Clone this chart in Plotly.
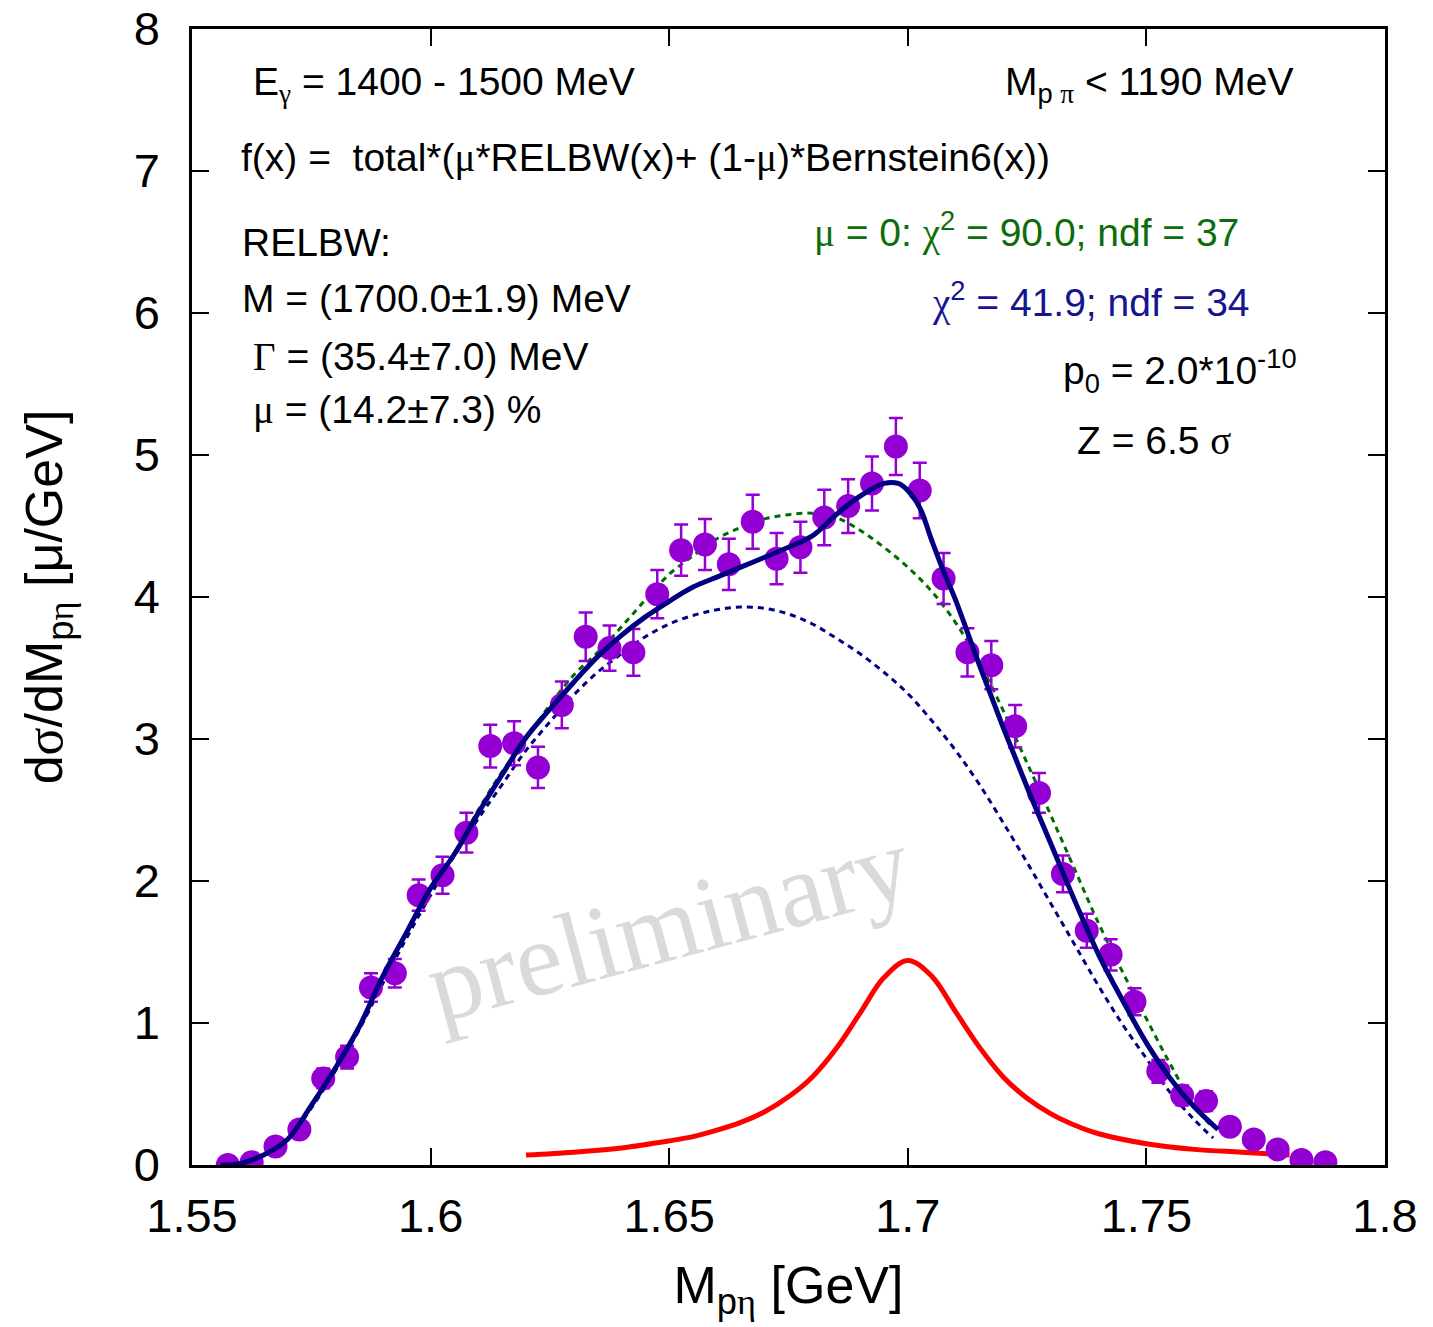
import plotly.graph_objects as go

# ---------------- data ----------------
mass = [1.5575, 1.5625, 1.5675, 1.5725, 1.5775, 1.5825, 1.5875, 1.5925, 1.5975, 1.6025,
        1.6075, 1.6125, 1.6175, 1.6225, 1.6275, 1.6325, 1.6375, 1.6425, 1.6475, 1.6525,
        1.6575, 1.6625, 1.6675, 1.6725, 1.6775, 1.6825, 1.6875, 1.6925, 1.6975, 1.7025,
        1.7075, 1.7125, 1.7175, 1.7225, 1.7275, 1.7325, 1.7375, 1.7425, 1.7475, 1.7525,
        1.7575, 1.7625, 1.7675, 1.7725, 1.7775, 1.7825, 1.7875]
xsec = [0.00, 0.02, 0.13, 0.25, 0.61, 0.76, 1.25, 1.35, 1.90, 2.04,
        2.34, 2.95, 2.97, 2.80, 3.24, 3.72, 3.64, 3.61, 4.02, 4.33,
        4.37, 4.23, 4.53, 4.27, 4.35, 4.56, 4.64, 4.80, 5.06, 4.75,
        4.13, 3.61, 3.52, 3.09, 2.62, 2.05, 1.65, 1.48, 1.15, 0.66,
        0.49, 0.45, 0.27, 0.18, 0.11, 0.035, 0.02]
xsec_err = [0.03, 0.03, 0.05, 0.06, 0.07, 0.08, 0.10, 0.10, 0.11, 0.13,
            0.14, 0.15, 0.155, 0.145, 0.165, 0.17, 0.16, 0.165, 0.17, 0.18,
            0.18, 0.18, 0.19, 0.18, 0.18, 0.195, 0.19, 0.19, 0.20, 0.195,
            0.18, 0.17, 0.17, 0.15, 0.14, 0.13, 0.12, 0.11, 0.095, 0.08,
            0.07, 0.07, 0.05, 0.04, 0.03, 0.02, 0.02]

# total fit (solid)
fit_x = [1.556, 1.56, 1.565, 1.57, 1.575, 1.58, 1.585, 1.59, 1.595, 1.60,
         1.605, 1.61, 1.615, 1.62, 1.625, 1.63, 1.635, 1.64, 1.645, 1.65,
         1.655, 1.66, 1.665, 1.67, 1.675, 1.68, 1.685, 1.69, 1.695, 1.698,
         1.70, 1.7025, 1.705, 1.7075, 1.71, 1.715, 1.72, 1.725, 1.73, 1.735,
         1.74, 1.745, 1.75, 1.755, 1.76, 1.765]
fit_y = [0.00, 0.01, 0.07, 0.18, 0.42, 0.68, 0.97, 1.33, 1.64, 1.95,
         2.19, 2.48, 2.75, 3.01, 3.21, 3.40, 3.58, 3.73, 3.86, 3.97,
         4.07, 4.14, 4.21, 4.28, 4.35, 4.43, 4.58, 4.71, 4.80, 4.80,
         4.75, 4.63, 4.40, 4.18, 3.98, 3.52, 3.08, 2.66, 2.26, 1.86,
         1.48, 1.16, 0.86, 0.61, 0.41, 0.25]

# background part of the fit (blue dotted)
bg_x = [1.556, 1.56, 1.565, 1.57, 1.575, 1.58, 1.585, 1.59, 1.595, 1.60,
        1.605, 1.61, 1.615, 1.62, 1.625, 1.63, 1.635, 1.64, 1.645, 1.65,
        1.655, 1.66, 1.665, 1.67, 1.675, 1.68, 1.685, 1.69, 1.695, 1.70,
        1.705, 1.71, 1.715, 1.72, 1.725, 1.73, 1.735, 1.74, 1.745, 1.75,
        1.755, 1.76, 1.764]
bg_y = [0.00, 0.01, 0.07, 0.18, 0.40, 0.66, 0.95, 1.28, 1.60, 1.90,
        2.18, 2.44, 2.68, 2.92, 3.12, 3.31, 3.47, 3.60, 3.72, 3.81,
        3.87, 3.91, 3.93, 3.92, 3.88, 3.81, 3.71, 3.60, 3.47, 3.32,
        3.13, 2.92, 2.68, 2.41, 2.13, 1.84, 1.55, 1.26, 0.99, 0.75,
        0.51, 0.32, 0.19]

# mu = 0 fit (green dotted)
nosig_x = [1.556, 1.56, 1.565, 1.57, 1.575, 1.58, 1.585, 1.59, 1.595, 1.60,
           1.605, 1.61, 1.615, 1.62, 1.625, 1.63, 1.635, 1.64, 1.645, 1.65,
           1.655, 1.66, 1.665, 1.67, 1.675, 1.68, 1.685, 1.69, 1.695, 1.70,
           1.705, 1.71, 1.715, 1.72, 1.725, 1.73, 1.735, 1.74, 1.745, 1.75,
           1.755, 1.76, 1.764]
nosig_y = [0.00, 0.01, 0.07, 0.19, 0.41, 0.67, 0.97, 1.32, 1.63, 1.95,
           2.20, 2.50, 2.77, 3.00, 3.24, 3.45, 3.61, 3.79, 3.98, 4.16,
           4.29, 4.41, 4.49, 4.55, 4.58, 4.59, 4.56, 4.47, 4.35, 4.21,
           4.04, 3.82, 3.54, 3.20, 2.83, 2.46, 2.08, 1.70, 1.36, 1.03,
           0.71, 0.42, 0.26]

# signal part (red, RELBW)
sig_x = [1.62, 1.63, 1.64, 1.65, 1.655, 1.66, 1.665, 1.67, 1.675, 1.68,
         1.685, 1.69, 1.695, 1.70, 1.705, 1.71, 1.715, 1.72, 1.725, 1.73,
         1.735, 1.74, 1.75, 1.76, 1.77, 1.78]
sig_y = [0.07, 0.09, 0.12, 0.17, 0.20, 0.245, 0.30, 0.375, 0.48, 0.62,
         0.82, 1.07, 1.32, 1.44, 1.33, 1.08, 0.83, 0.62, 0.47, 0.36,
         0.28, 0.22, 0.15, 0.11, 0.09, 0.07]

x_ticks = [1.55, 1.6, 1.65, 1.7, 1.75, 1.8]
x_ticklabels = ["1.55", "1.6", "1.65", "1.7", "1.75", "1.8"]
y_ticks = [0, 1, 2, 3, 4, 5, 6, 7, 8]

# ---------------- figure ----------------
W, H = 1433, 1327
L, R, T, B = 192, 48, 29, 162
PW, PH = W - L - R, H - T - B

def px(x):
    return (x - L) / PW

def py(y):
    return (H - B - y) / PH

PURPLE = "#9400D3"
NAVY = "#000080"
GREEN = "#006d00"
SANS = "Liberation Sans, Arial, sans-serif"
SERIF = "Liberation Serif, Times New Roman, serif"

def sym(ch):
    return '<span style="font-family:Liberation Serif">' + ch + '</span>'

fig = go.Figure()

fig.add_trace(go.Scatter(x=nosig_x, y=nosig_y, mode="lines", line_shape="spline",
                         line=dict(color=GREEN, width=3, dash="6px,5px"),
                         showlegend=False, hoverinfo="skip"))
fig.add_trace(go.Scatter(x=bg_x, y=bg_y, mode="lines", line_shape="spline",
                         line=dict(color=NAVY, width=3, dash="6px,5px"),
                         showlegend=False, hoverinfo="skip"))
fig.add_trace(go.Scatter(x=sig_x, y=sig_y, mode="lines", line_shape="spline",
                         line=dict(color="#ff0000", width=5),
                         showlegend=False))
fig.add_trace(go.Scatter(x=mass, y=xsec, mode="markers",
                         marker=dict(color=PURPLE, size=24),
                         error_y=dict(type="data", array=xsec_err, color=PURPLE,
                                      thickness=2.5, width=7),
                         showlegend=False))
fig.add_trace(go.Scatter(x=fit_x, y=fit_y, mode="lines", line_shape="spline",
                         line=dict(color=NAVY, width=5),
                         showlegend=False))

ann = []

def add_text(text, x, y, color="black", size=39, xanchor="left"):
    ann.append(dict(text=text, x=px(x), y=py(y), xref="paper", yref="paper",
                    xanchor=xanchor, yanchor="middle", showarrow=False,
                    font=dict(family=SANS, size=size, color=color)))

add_text("E<sub>" + sym("γ") + "</sub> = 1400 - 1500 MeV", 251, 84)
add_text("M<sub>p " + sym("π") + "</sub> &lt; 1190 MeV", 1003, 84)
add_text("f(x) =  total*(" + sym("μ") + "*RELBW(x)+ (1-" + sym("μ") + ")*Bernstein6(x))", 239, 158)
add_text("RELBW:", 240, 242)
add_text("M = (1700.0±1.9) MeV", 240, 298)
add_text(sym("Γ") + " = (35.4±7.0) MeV", 251, 356)
add_text(sym("μ") + " = (14.2±7.3) %", 251, 410)
add_text(sym("μ") + " = 0: " + sym("χ") + "<sup>2</sup> = 90.0; ndf = 37", 812, 230, color="#0b6e0b")
add_text(sym("χ") + "<sup>2</sup> = 41.9; ndf = 34", 930, 300, color="#15158f")
add_text("p<sub>0</sub> = 2.0*10<sup>-10</sup>", 1061, 371)
add_text("Z = 6.5 " + sym("σ"), 1075, 441)

# watermark
ann.append(dict(text="preliminary", x=px(668), y=py(924), xref="paper", yref="paper",
                xanchor="center", yanchor="middle", showarrow=False, textangle=-15,
                font=dict(family=SERIF, size=106, color="#d9dbdb")))

axis_common = dict(showline=True, linecolor="black", linewidth=2.5, mirror="ticks",
                   ticks="inside", ticklen=17, tickwidth=2, tickcolor="black",
                   showgrid=False, zeroline=False, automargin=False,
                   tickfont=dict(family=SANS, size=47, color="black"))

fig.update_layout(
    width=W, height=H, autosize=False,
    margin=dict(l=L, r=R, t=T, b=B),
    paper_bgcolor="white", plot_bgcolor="white",
    xaxis=dict(range=[1.55, 1.8], tickvals=x_ticks, ticktext=x_ticklabels,
               ticklabelstandoff=8,
               title=dict(text="M<sub>p" + sym("η") + "</sub> [GeV]",
                          font=dict(family=SANS, size=52, color="black"), standoff=26),
               **axis_common),
    yaxis=dict(range=[0, 8], tickvals=y_ticks, ticklabelstandoff=20,
               title=dict(text="d" + sym("σ") + "/dM<sub>p" + sym("η") + "</sub> [μ/GeV]",
                          font=dict(family=SANS, size=52, color="black"), standoff=55),
               **axis_common),
    annotations=ann,
)

fig.write_html("out.html")
